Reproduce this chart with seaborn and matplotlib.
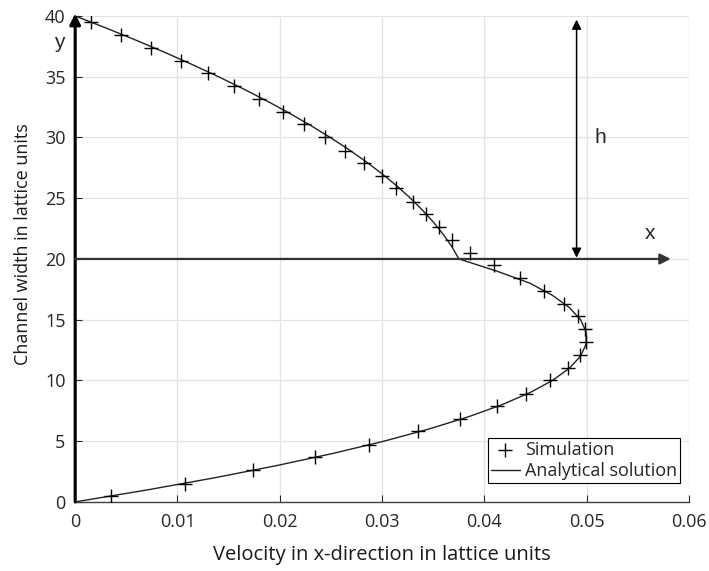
import numpy as np
import pandas as pd
import matplotlib
matplotlib.use('Agg')
import matplotlib.pyplot as plt
import seaborn as sns

# simulation points (velocity, channel position)
sim_u = [0.0035, 0.0107, 0.0174, 0.0234, 0.0287, 0.0335, 0.0376, 0.0412, 0.0441, 0.0464,
         0.0482, 0.0493, 0.0499, 0.0498, 0.0491, 0.0478, 0.0458, 0.0435, 0.0409, 0.0386,
         0.0368, 0.0356, 0.0343, 0.0330, 0.0314, 0.0300, 0.0282, 0.0264, 0.0244, 0.0224,
         0.0203, 0.0180, 0.0155, 0.0130, 0.0103, 0.0074, 0.0045, 0.0015]
sim_y = [0.5, 1.5, 2.6, 3.7, 4.7, 5.8, 6.8, 7.9, 8.9, 10.0,
         11.0, 12.1, 13.2, 14.2, 15.3, 16.3, 17.4, 18.4, 19.5, 20.5,
         21.6, 22.6, 23.7, 24.7, 25.8, 26.8, 27.9, 28.9, 30.0, 31.1,
         32.1, 33.2, 34.2, 35.3, 36.3, 37.4, 38.4, 39.5]

# analytical solution
ana_y = [0, 1, 2, 3, 4, 5, 6, 7, 8, 9, 10, 11, 12, 13, 14, 15, 16, 17, 18, 19, 20,
         21, 22, 23, 24, 25, 26, 27, 28, 29, 30, 31, 32, 33, 34, 35, 36, 37, 38, 39, 40]
ana_u = [0.0, 0.00713, 0.01372, 0.01975, 0.02524, 0.03018, 0.03457, 0.03841, 0.0417, 0.04445,
         0.04664, 0.04829, 0.04939, 0.04994, 0.04993, 0.04939, 0.04829, 0.04665, 0.04445, 0.0412,
         0.0375,
         0.03682, 0.03599, 0.03504, 0.03396, 0.03277, 0.03145, 0.03000, 0.02844, 0.02674, 0.02493,
         0.02299, 0.02093, 0.01875, 0.01644, 0.01401, 0.01145, 0.00877, 0.00597, 0.00305, 0.0]

sim_df = pd.DataFrame({'u': sim_u, 'y': sim_y})
ana_df = pd.DataFrame({'u': ana_u, 'y': ana_y})

sns.set_style('whitegrid')
plt.rcParams['font.family'] = ['Open Sans', 'DejaVu Sans']

fig = plt.figure(figsize=(7.09, 5.71), dpi=100)
ax = fig.add_axes([0.106, 0.121, 0.866, 0.851])

sns.scatterplot(data=sim_df, x='u', y='y', marker='+', s=110, color='black',
                linewidth=1.0, ax=ax, label='Simulation', zorder=4)
sns.lineplot(data=ana_df, x='u', y='y', sort=False, estimator=None, color='#222222',
             linewidth=1.0, ax=ax, label='Analytical solution', zorder=3)

ax.set_xlim(0, 0.06)
ax.set_ylim(0, 40)
ax.set_xticks([0, 0.01, 0.02, 0.03, 0.04, 0.05, 0.06])
ax.set_xticklabels(['0', '0.01', '0.02', '0.03', '0.04', '0.05', '0.06'])
ax.set_yticks([0, 5, 10, 15, 20, 25, 30, 35, 40])
ax.grid(True, color='#e3e3e3', linewidth=0.9)
ax.tick_params(direction='in', length=5, width=0.8, colors='#262626', labelsize=13,
               bottom=True, left=True)
ax.tick_params(axis='x', pad=8)
ax.tick_params(axis='y', pad=7)
for side in ['top', 'right']:
    ax.spines[side].set_visible(False)
for side in ['left', 'bottom']:
    ax.spines[side].set_color('#404040')
    ax.spines[side].set_linewidth(1.0)

ax.set_xlabel('Velocity in x-direction in lattice units', fontsize=14.5, color='#1a1a1a', labelpad=10)
ax.set_ylabel('Channel width in lattice units', fontsize=13, color='#1a1a1a')
ax.yaxis.set_label_coords(-0.07, 0.531)

# coordinate arrows
ax.annotate('', xy=(0, 40.2), xytext=(0, 0), annotation_clip=False,
            arrowprops=dict(arrowstyle='-|>', color='black', lw=2.2, mutation_scale=16,
                            shrinkA=0, shrinkB=0))
ax.annotate('', xy=(0.0582, 20), xytext=(0, 20), annotation_clip=False,
            arrowprops=dict(arrowstyle='-|>', color='#333333', lw=1.6, mutation_scale=16,
                            shrinkA=0, shrinkB=0))
ax.annotate('', xy=(0.049, 39.7), xytext=(0.049, 20.1),
            arrowprops=dict(arrowstyle='<|-|>', color='black', lw=1.1, mutation_scale=14,
                            shrinkA=0, shrinkB=0))
ax.text(0.0513, 30, 'h', fontsize=15, family=['Liberation Sans'], ha='center', va='center')
ax.text(0.0562, 22.1, 'x', fontsize=15, family=['Liberation Sans'], ha='center', va='center')
ax.text(-0.0016, 37.8, 'y', fontsize=15, family=['Liberation Sans'], ha='center', va='center',
        clip_on=False)

leg = ax.legend(loc='lower right', bbox_to_anchor=(0.985, 0.039), fontsize=13, frameon=True,
                fancybox=False, edgecolor='black', framealpha=1, borderaxespad=0,
                handlelength=1.6, borderpad=0.15, labelspacing=0.2, handletextpad=0.3)
leg.get_frame().set_linewidth(0.8)

plt.savefig('out.png', dpi=100)
